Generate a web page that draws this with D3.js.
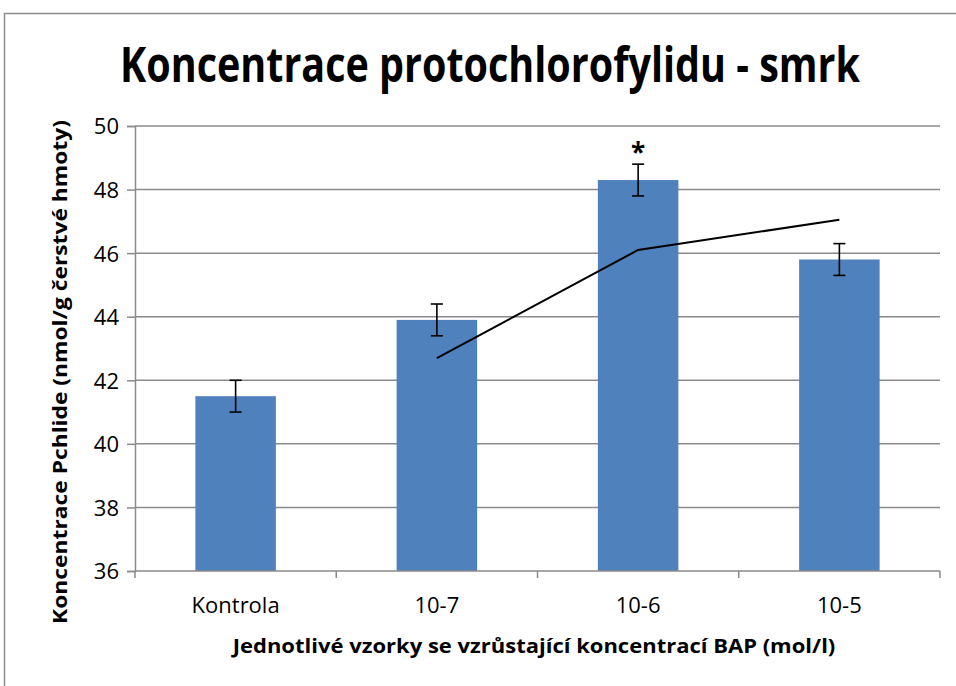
<!DOCTYPE html>
<html><head><meta charset="utf-8">
<script src="https://cdn.jsdelivr.net/npm/d3@7"></script>
<style>html,body{margin:0;padding:0;background:#fff;}svg{display:block;}</style>
</head><body>
<svg id="c" width="956" height="686"></svg>
<script>
const categories = ["Kontrola", "10-7", "10-6", "10-5"];
const values = [41.5, 43.9, 48.3, 45.8];
const errors = [0.5, 0.5, 0.5, 0.5];
const trendCats = ["10-7", "10-6", "10-5"];
const trendValues = [42.7, 46.1, 47.05];
const yTicks = [36, 38, 40, 42, 44, 46, 48, 50];
const marks = ["", "", "*", ""];
const titleText = "Koncentrace protochlorofylidu - smrk";
const xTitle = "Jednotlivé vzorky se vzrůstající koncentrací BAP (mol/l)";
const yTitle = "Koncentrace Pchlide (nmol/g čerstvé hmoty)";

const svg = d3.select("#c");
const font = "'Open Sans', sans-serif";
const L = 135, R = 940, T = 126, B = 571;

svg.append("rect").attr("x", 4.5).attr("y", 13.5).attr("width", 1000).attr("height", 1000)
  .attr("fill", "#fff").attr("stroke", "#8c8c8c").attr("stroke-width", 1.5);

const x = d3.scaleBand().domain(categories).range([L, R]).paddingInner(0.6).paddingOuter(0.3);
const y = d3.scaleLinear().domain([36, 50]).range([B, T]);

// gridlines
svg.append("g").selectAll("line").data(yTicks.filter(t => t > 36)).join("line")
  .attr("x1", L).attr("x2", R).attr("y1", d => y(d)).attr("y2", d => y(d))
  .attr("stroke", "#8a8a8a").attr("stroke-width", 1.5);

// bars
svg.append("g").selectAll("rect").data(categories).join("rect")
  .attr("x", d => x(d)).attr("width", x.bandwidth())
  .attr("y", (d, i) => y(values[i])).attr("height", (d, i) => y(36) - y(values[i]))
  .attr("fill", "#4F81BD");

// y axis
const yAxis = svg.append("g").attr("transform", `translate(${L},0)`)
  .call(d3.axisLeft(y).tickValues(yTicks).tickSize(8).tickPadding(8).tickFormat(d3.format("d")));
yAxis.select(".domain").attr("stroke", "#8a8a8a").attr("stroke-width", 1.5);
yAxis.selectAll(".tick line").attr("stroke", "#8a8a8a").attr("stroke-width", 1.5);
yAxis.selectAll(".tick text").attr("font-family", font).attr("font-size", 22).attr("fill", "#000")
  .attr("dy", "0.36em");

// x axis
const bounds = d3.range(categories.length + 1).map(i => L + i * (R - L) / categories.length);
svg.append("line").attr("x1", L).attr("x2", R).attr("y1", B).attr("y2", B)
  .attr("stroke", "#8a8a8a").attr("stroke-width", 1.5);
svg.append("g").selectAll("line").data(bounds).join("line")
  .attr("x1", d => d).attr("x2", d => d).attr("y1", B).attr("y2", B + 7)
  .attr("stroke", "#8a8a8a").attr("stroke-width", 1.5);
svg.append("g").selectAll("text").data(categories).join("text")
  .attr("x", d => x(d) + x.bandwidth() / 2).attr("y", 613)
  .attr("text-anchor", "middle").attr("font-family", font).attr("font-size", 22).text(d => d);

// error bars
const eb = svg.append("g").attr("stroke", "#000").attr("stroke-width", 1.6);
categories.forEach((c, i) => {
  const cx = x(c) + x.bandwidth() / 2;
  eb.append("line").attr("x1", cx).attr("x2", cx).attr("y1", y(values[i] + errors[i])).attr("y2", y(values[i] - errors[i]));
  [values[i] + errors[i], values[i] - errors[i]].forEach(v =>
    eb.append("line").attr("x1", cx - 6).attr("x2", cx + 6).attr("y1", y(v)).attr("y2", y(v)));
});

// trend line
svg.append("path").datum(trendCats.map((c, i) => [x(c) + x.bandwidth() / 2, y(trendValues[i])]))
  .attr("d", d3.line()).attr("fill", "none").attr("stroke", "#000").attr("stroke-width", 2);

// significance marks
svg.append("g").selectAll("text").data(categories).join("text")
  .attr("x", d => x(d) + x.bandwidth() / 2).attr("y", (d, i) => y(values[i] + errors[i]) - 4)
  .attr("text-anchor", "middle").attr("font-family", font).attr("font-weight", "bold").attr("font-size", 26)
  .attr("dy", "0.55em").attr("transform", "translate(0,-12)")
  .text((d, i) => marks[i]);

// titles fitted by scaling
function fitted(txt, size, cx, cy, targetW, sy, rot) {
  const t = svg.append("text").attr("text-anchor", "middle")
    .attr("font-family", font).attr("font-weight", "bold").attr("font-size", size).text(txt);
  const w = t.node().getComputedTextLength();
  const sx = targetW / w;
  t.attr("transform", `translate(${cx},${cy}) rotate(${rot}) scale(${sx},${sy})`);
  return t;
}
fitted(titleText, 42, 490, 82, 740, 1.15, 0);
fitted(xTitle, 20, 534, 653, 603, 1.0, 0);
fitted(yTitle, 20, 67, 372, 504, 1.0, -90);
</script>
</body></html>
